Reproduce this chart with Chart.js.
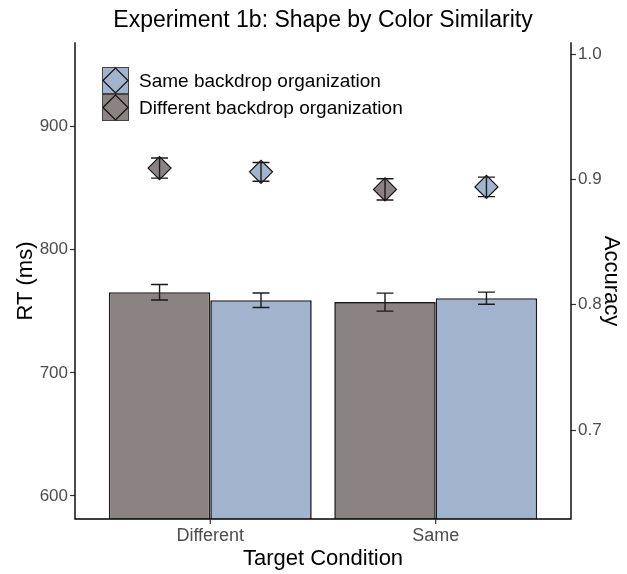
<!DOCTYPE html>
<html>
<head>
<meta charset="utf-8">
<script src="https://cdn.jsdelivr.net/npm/chart.js@4.4.0/dist/chart.umd.min.js"></script>
<style>
  html, body { margin: 0; padding: 0; background: #fff; }
  #wrap { width: 627px; height: 574px; position: relative; }
</style>
</head>
<body>
<div id="wrap"><canvas id="grafico"></canvas></div>
<script>
// dados
const condicoes = ["Different", "Same"];
const nomesSeries = ["Different backdrop organization", "Same backdrop organization"];
const cores = ["#8b8284", "#a2b4cd"];

const rtDiffBackdrop = [765.5, 757.5];
const rtDiffBackdropErr = [6.3, 7.3];
const rtSameBackdrop = [759, 760.7];
const rtSameBackdropErr = [5.9, 4.9];

const accDiffBackdrop = [0.909, 0.892];
const accDiffBackdropErr = [0.008, 0.0085];
const accSameBackdrop = [0.906, 0.894];
const accSameBackdropErr = [0.0075, 0.0078];

const rtTicks = [600, 700, 800, 900];
const accTicks = [0.7, 0.8, 0.9, 1.0];

const FONTE = "'Liberation Sans', Arial, sans-serif";
const dodge = 0.9;

const rt = [rtDiffBackdrop, rtSameBackdrop];
const rtErr = [rtDiffBackdropErr, rtSameBackdropErr];
const acc = [accDiffBackdrop, accSameBackdrop];
const accErr = [accDiffBackdropErr, accSameBackdropErr];

function posX(i, s) {
  return i + 1 + (s - (nomesSeries.length - 1) / 2) * dodge / nomesSeries.length;
}

const datasets = [];
nomesSeries.forEach((nome, s) => {
  datasets.push({
    type: "line",
    label: nome + " (accuracy)",
    yAxisID: "y2",
    showLine: false,
    order: 0,
    data: acc[s].map((v, i) => ({ x: posX(i, s), y: v })),
    pointStyle: "rectRot",
    pointRadius: 11.5,
    pointHoverRadius: 11.5,
    pointBackgroundColor: cores[s],
    pointBorderColor: "#111",
    pointBorderWidth: 1.2,
    erros: accErr[s]
  });
});
nomesSeries.forEach((nome, s) => {
  datasets.push({
    type: "bar",
    label: nome,
    yAxisID: "y",
    order: 1,
    data: rt[s].map((v, i) => ({ x: i + 1, y: v })),
    backgroundColor: cores[s],
    borderColor: "#1a1a1a",
    borderWidth: 1.6,
    categoryPercentage: dodge,
    barPercentage: 1,
    erros: rtErr[s]
  });
});

const barrasErro = {
  id: "barrasErro",
  afterDatasetsDraw(chart) {
    const ctx = chart.ctx;
    const sx = chart.scales.x;
    const a = chart.chartArea;
    const meia = sx.getPixelForValue(1.0375) - sx.getPixelForValue(1);
    ctx.save();
    ctx.strokeStyle = "#1a1a1a";
    ctx.lineWidth = 1.4;
    chart.data.datasets.forEach((ds, d) => {
      const meta = chart.getDatasetMeta(d);
      const sy = chart.scales[ds.yAxisID];
      meta.data.forEach((el, i) => {
        const v = ds.data[i].y, e = ds.erros[i];
        const x = el.x;
        const y1 = sy.getPixelForValue(v + e), y0 = sy.getPixelForValue(v - e);
        ctx.beginPath();
        ctx.moveTo(x, y1); ctx.lineTo(x, y0);
        ctx.moveTo(x - meia, y1); ctx.lineTo(x + meia, y1);
        ctx.moveTo(x - meia, y0); ctx.lineTo(x + meia, y0);
        ctx.stroke();
      });
    });
    // linhas dos eixos
    ctx.strokeStyle = "#000";
    ctx.lineWidth = 1.4;
    ctx.lineCap = "square";
    ctx.beginPath();
    ctx.moveTo(a.left, a.top); ctx.lineTo(a.left, a.bottom);
    ctx.lineTo(a.right, a.bottom); ctx.lineTo(a.right, a.top);
    ctx.stroke();
    // marcas do eixo x
    ctx.strokeStyle = "#333";
    ctx.lineWidth = 1.2;
    ctx.lineCap = "butt";
    condicoes.forEach((c, i) => {
      const x = sx.getPixelForValue(i + 1);
      ctx.beginPath();
      ctx.moveTo(x, a.bottom); ctx.lineTo(x, a.bottom + 5);
      ctx.stroke();
    });
    ctx.restore();
  }
};

const textos = {
  id: "textos",
  afterDraw(chart) {
    const ctx = chart.ctx;
    const a = chart.chartArea;
    ctx.save();
    ctx.fillStyle = "#000";
    // titulo
    ctx.font = "23px " + FONTE;
    ctx.textAlign = "center";
    ctx.textBaseline = "alphabetic";
    ctx.fillText("Experiment 1b: Shape by Color Similarity", (a.left + a.right) / 2, 27);
    // eixo x
    ctx.font = "22px " + FONTE;
    ctx.fillText("Target Condition", (a.left + a.right) / 2, 565);
    // eixo y esquerdo
    ctx.save();
    ctx.translate(31.5, (a.top + a.bottom) / 2);
    ctx.rotate(-Math.PI / 2);
    ctx.fillText("RT (ms)", 0, 0);
    ctx.restore();
    // eixo y direito
    ctx.save();
    ctx.translate(605, (a.top + a.bottom) / 2);
    ctx.rotate(Math.PI / 2);
    ctx.fillText("Accuracy", 0, 0);
    ctx.restore();

    // legenda (Same primeiro)
    const ordem = [1, 0];
    const k = 27, lx = 102, ly = 67;
    ordem.forEach((s, j) => {
      const y = ly + j * k;
      ctx.fillStyle = cores[s];
      ctx.fillRect(lx, y, k, k);
      ctx.strokeStyle = "#444";
      ctx.lineWidth = 1;
      ctx.strokeRect(lx + 0.5, y + 0.5, k - 1, k - 1);
      const cx = lx + k / 2, cy = y + k / 2, r = k / 2 - 1;
      ctx.beginPath();
      ctx.moveTo(cx - r, cy); ctx.lineTo(cx, cy - r);
      ctx.lineTo(cx + r, cy); ctx.lineTo(cx, cy + r);
      ctx.closePath();
      ctx.strokeStyle = "#111";
      ctx.lineWidth = 1.2;
      ctx.stroke();
      ctx.fillStyle = "#000";
      ctx.font = "19px " + FONTE;
      ctx.textAlign = "left";
      ctx.textBaseline = "middle";
      ctx.fillText(nomesSeries[s], 139, cy + 1);
    });
    ctx.restore();
  }
};

const semBorda = { display: false };
const marcaY = { drawOnChartArea: false, drawTicks: true, tickLength: 5, tickColor: "#333", tickWidth: 1.2, offset: false };

new Chart(document.getElementById("grafico"), {
  type: "bar",
  data: { datasets },
  plugins: [barrasErro, textos],
  options: {
    responsive: true,
    maintainAspectRatio: false,
    animation: false,
    layout: { padding: { top: 43, left: 0, right: 0, bottom: 0 } },
    plugins: { legend: { display: false }, tooltip: { enabled: false }, title: { display: false } },
    scales: {
      x: {
        type: "linear",
        min: 0.4,
        max: 2.6,
        offset: false,
        border: semBorda,
        grid: { display: false, drawTicks: true, tickLength: 5, offset: false },
        afterBuildTicks: sc => { sc.ticks = condicoes.map((c, i) => ({ value: i + 1 })); },
        afterFit: sc => { sc.height = 55; },
        ticks: {
          padding: 1,
          autoSkip: false,
          maxRotation: 0,
          color: "#4d4d4d",
          font: { family: FONTE, size: 18 },
          callback: v => condicoes[v - 1]
        }
      },
      y: {
        position: "left",
        min: 581.3,
        max: 968,
        border: semBorda,
        grid: marcaY,
        afterBuildTicks: sc => { sc.ticks = rtTicks.map(v => ({ value: v })); },
        afterFit: sc => { sc.width = 75; },
        ticks: { padding: 2, color: "#4d4d4d", font: { family: FONTE, size: 17 } }
      },
      y2: {
        position: "right",
        min: 0.629,
        max: 1.0088,
        border: semBorda,
        grid: marcaY,
        afterBuildTicks: sc => { sc.ticks = accTicks.map(v => ({ value: v })); },
        afterFit: sc => { sc.width = 56; },
        ticks: { padding: 2, color: "#4d4d4d", font: { family: FONTE, size: 17 }, callback: v => v.toFixed(1) }
      }
    }
  }
});
</script>
</body>
</html>
